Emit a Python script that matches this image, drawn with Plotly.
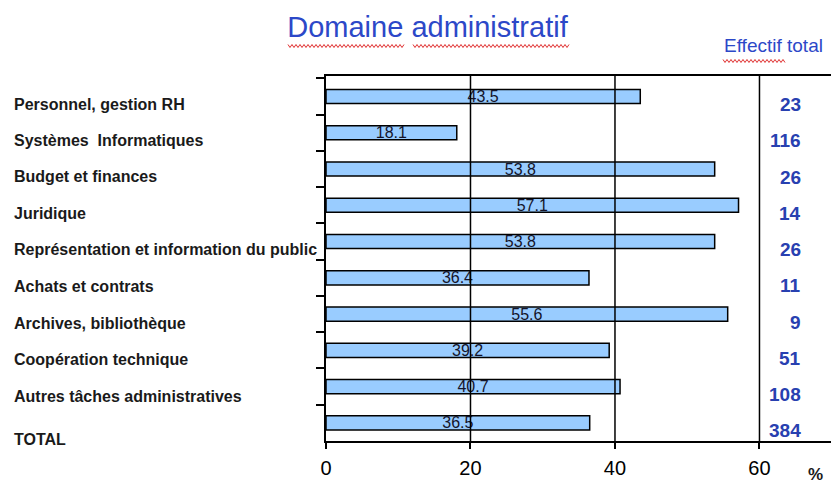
import plotly.graph_objects as go

categories = [
    "Personnel, gestion RH",
    "Systèmes  Informatiques",
    "Budget et finances",
    "Juridique",
    "Représentation et information du public",
    "Achats et contrats",
    "Archives, bibliothèque",
    "Coopération technique",
    "Autres tâches administratives",
    "TOTAL",
]
percent_values = [43.5, 18.1, 53.8, 57.1, 53.8, 36.4, 55.6, 39.2, 40.7, 36.5]
effectif_total = [23, 116, 26, 14, 26, 11, 9, 51, 108, 384]
x_tick_values = [0, 20, 40, 60]
x_tick_labels = ["0", "20", "40", "60"]

FONT = "Liberation Sans, Arial, sans-serif"
BLUE_TITLE = "#2c48c8"
BLUE_NUM = "#2840b0"

W, H = 831, 483
ML, MR, MT, MB = 326, 0, 76, 42
PW = W - ML - MR
PH = H - MT - MB

# label vertical nudges (style only)
label_shift = [-8, -8, -7, -8, -8, -9, -9, -9, -10, -17]


def px(x):
    return (x - ML) / PW


def py(y):
    return (H - MB - y) / PH


def wavy(x0, x1, y, period=4.0, amp=1.5):
    pts = []
    x = x0
    k = 0
    while x <= x1:
        yy = y + (amp if k % 2 else -amp)
        pts.append((px(x), py(yy)))
        x += period / 2
        k += 1
    return "M " + " L ".join(f"{a:.5f},{b:.5f}" for a, b in pts)


fig = go.Figure()
fig.add_trace(go.Bar(
    x=percent_values,
    y=categories,
    orientation="h",
    marker=dict(color="#99CCFF", line=dict(color="black", width=1.5)),
    text=[f"{v:.1f}" for v in percent_values],
    textposition="inside",
    insidetextanchor="middle",
    constraintext="none",
    textangle=0,
    textfont=dict(family=FONT, size=16, color="#14142a"),
    hoverinfo="skip",
))

annotations = []
for cat, sh in zip(categories, label_shift):
    annotations.append(dict(
        xref="paper", yref="y", x=px(12), y=cat,
        text=f"<b>{cat}</b>", showarrow=False, xanchor="left", yanchor="middle",
        yshift=sh, font=dict(family=FONT, size=16, color="#1a1a1a"),
    ))
for cat, n in zip(categories, effectif_total):
    annotations.append(dict(
        xref="paper", yref="y", x=px(803), y=cat,
        text=f"<b>{n}</b>", showarrow=False, xanchor="right", yanchor="middle",
        yshift=-8, font=dict(family=FONT, size=19, color=BLUE_NUM),
    ))
annotations.append(dict(
    xref="paper", yref="paper", x=px(773), y=py(45),
    text="Effectif total", showarrow=False, xanchor="center", yanchor="middle",
    font=dict(family=FONT, size=19, color=BLUE_TITLE),
))
annotations.append(dict(
    xref="paper", yref="paper", x=px(815), y=py(474),
    text="<b>%</b>", showarrow=False, xanchor="center", yanchor="middle",
    font=dict(family=FONT, size=17, color="#1a1a1a"),
))

shapes = []
for tv in x_tick_values[1:]:
    shapes.append(dict(type="line", xref="x", yref="paper", x0=tv, x1=tv, y0=0, y1=1,
                       line=dict(color="black", width=1.5), layer="above"))

# spell-check style wavy underlines seen in the reference
for x0, x1, yy in [(288, 404, 46), (413, 570, 46), (723, 785, 61)]:
    shapes.append(dict(type="path", xref="paper", yref="paper", path=wavy(x0, x1, yy),
                       line=dict(color="#e03030", width=1), layer="above"))

fig.update_layout(
    width=W, height=H,
    margin=dict(l=ML, r=MR, t=MT, b=MB),
    paper_bgcolor="white", plot_bgcolor="white",
    showlegend=False,
    bargap=0.61,
    title=dict(text="Domaine administratif", x=427.5 / W, xanchor="center",
               y=1 - 27 / H, yanchor="middle", yref="container",
               font=dict(family=FONT, size=29, color=BLUE_TITLE)),
    xaxis=dict(range=[0, 69.9], tickvals=x_tick_values, ticktext=x_tick_labels,
               ticks="outside", ticklen=6, tickwidth=1.5, tickcolor="black",
               showline=True, linecolor="black", linewidth=1.5, mirror=True,
               showgrid=False, zeroline=False, ticklabelstandoff=2,
               tickfont=dict(family=FONT, size=20, color="black")),
    yaxis=dict(type="category", autorange="reversed", ticks="outside", tickson="boundaries",
               ticklen=8, tickwidth=1.5, tickcolor="black", showticklabels=False,
               showline=True, linecolor="black", linewidth=1.5, showgrid=False),
    annotations=annotations,
    shapes=shapes,
)

fig.write_html("out.html", config={"displayModeBar": False},
               post_script="document.body.style.margin='0';document.body.style.padding='0';")
